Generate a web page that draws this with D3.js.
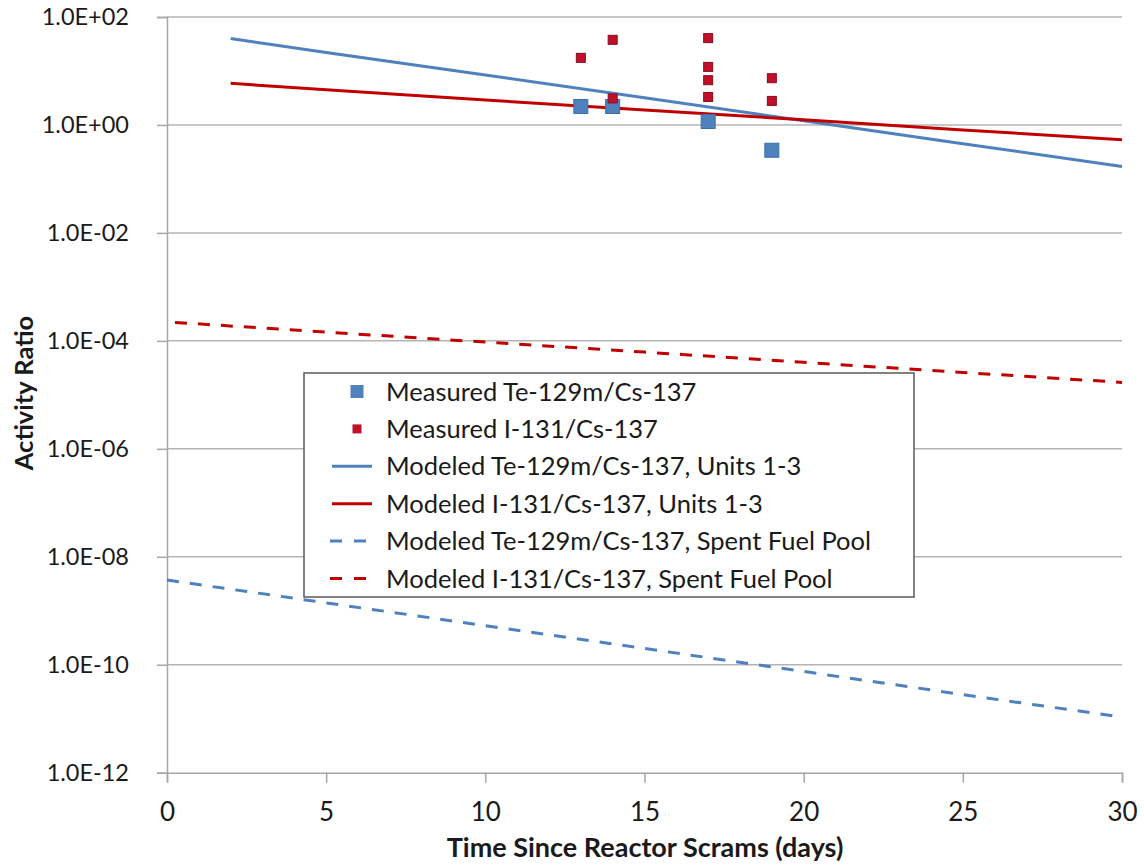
<!DOCTYPE html>
<html>
<head>
<meta charset="utf-8">
<script src="https://cdn.jsdelivr.net/npm/d3@7"></script>
<style>
  html, body { margin: 0; padding: 0; background: #fff; }
  svg { display: block; }
  text { font-family: Lato, "Open Sans", sans-serif; fill: #1a1a1a; }
</style>
</head>
<body>
<svg id="chart" width="1144" height="867"></svg>
<script>
// ---- data ----
const xTicks = [0, 5, 10, 15, 20, 25, 30];
const yTicks = [1e2, 1e0, 1e-2, 1e-4, 1e-6, 1e-8, 1e-10, 1e-12];
const yTickLabels = ["1.0E+02", "1.0E+00", "1.0E-02", "1.0E-04", "1.0E-06", "1.0E-08", "1.0E-10", "1.0E-12"];

const measTeDays = [13, 14, 17, 19];
const measTeVals = [2.2, 2.2, 1.16, 0.34];

const measIDays = [13, 14, 14, 17, 17, 17, 17, 19, 19];
const measIVals = [17.5, 37.8, 3.1, 40.6, 11.9, 6.75, 3.3, 7.35, 2.79];

const unitsDays = [2, 5, 10, 15, 20, 25, 30];
const modelTeUnits = [40, 22, 8.4, 3.2, 1.2, 0.45, 0.17];
const modelIUnits = [5.9, 4.5, 2.9, 1.9, 1.25, 0.81, 0.53];

const sfpTeDays = [0, 5, 10, 15, 20, 25, 30];
const modelTeSFP = [3.7e-9, 1.4e-9, 5.3e-10, 2.0e-10, 7.5e-11, 2.8e-11, 1.07e-11];
const sfpIDays = [0.25, 5, 10, 15, 20, 25, 30];
const modelISFP = [2.2e-4, 1.45e-4, 9.5e-5, 6.2e-5, 4.0e-5, 2.6e-5, 1.7e-5];

const legendLabels = [
  "Measured Te-129m/Cs-137",
  "Measured I-131/Cs-137",
  "Modeled Te-129m/Cs-137, Units 1-3",
  "Modeled I-131/Cs-137, Units 1-3",
  "Modeled Te-129m/Cs-137, Spent Fuel Pool",
  "Modeled I-131/Cs-137, Spent Fuel Pool"
];

(function () {
// ---- styles ----
const BLUE = "#4F81BD";
const RED = "#C00000";
const RED_SQ = "#C0102A";

const svg = d3.select("#chart");
const mLeft = 167, mRight = 1122, mTop = 17, mBottom = 772.7;

const x = d3.scaleLinear().domain([0, 30]).range([mLeft, mRight]);
const y = d3.scaleLog().domain([1e-12, 1e2]).range([mBottom, mTop]);

// gridlines
svg.append("g").selectAll("line").data(yTicks.slice(0, -1)).join("line")
  .attr("x1", mLeft).attr("x2", mRight)
  .attr("y1", d => y(d)).attr("y2", d => y(d))
  .attr("stroke", "#B4B4B4").attr("stroke-width", 1.5);

// y axis
const yAxis = d3.axisLeft(y).tickValues(yTicks)
  .tickFormat((d, i) => yTickLabels[i]).tickSize(10).tickPadding(28);
const gy = svg.append("g").attr("transform", `translate(${mLeft},0)`).call(yAxis);
gy.select(".domain").attr("stroke", "#A6A6A6").attr("stroke-width", 1.5);
gy.selectAll(".tick line").attr("stroke", "#A6A6A6").attr("stroke-width", 1.5);
gy.selectAll(".tick text").attr("font-size", 23.5).attr("fill", "#1a1a1a")
  .style("font-family", "Lato, sans-serif");

// x axis
const xAxis = d3.axisBottom(x).tickValues(xTicks).tickSize(10).tickPadding(20);
const gx = svg.append("g").attr("transform", `translate(0,${mBottom})`).call(xAxis);
gx.select(".domain").attr("stroke", "#A6A6A6").attr("stroke-width", 1.5);
gx.selectAll(".tick line").attr("stroke", "#A6A6A6").attr("stroke-width", 1.5);
gx.selectAll(".tick text").attr("font-size", 26).attr("fill", "#1a1a1a")
  .style("font-family", "Lato, sans-serif");

// axis titles
svg.append("text").attr("x", 645).attr("y", 857)
  .attr("text-anchor", "middle").attr("font-size", 27).attr("font-weight", "bold")
  .text("Time Since Reactor Scrams (days)");
svg.append("text").attr("transform", "translate(33,393) rotate(-90)")
  .attr("text-anchor", "middle").attr("font-size", 25.5).attr("font-weight", "bold")
  .text("Activity Ratio");

// lines
const line = d3.line().x(d => x(d[0])).y(d => y(d[1]));
const zip = (a, b) => a.map((v, i) => [v, b[i]]);

svg.append("path").datum(zip(sfpTeDays, modelTeSFP)).attr("d", line)
  .attr("fill", "none").attr("stroke", BLUE).attr("stroke-width", 3)
  .attr("stroke-dasharray", "12,11");
svg.append("path").datum(zip(sfpIDays, modelISFP)).attr("d", line)
  .attr("fill", "none").attr("stroke", RED).attr("stroke-width", 3)
  .attr("stroke-dasharray", "12,11");
svg.append("path").datum(zip(unitsDays, modelTeUnits)).attr("d", line)
  .attr("fill", "none").attr("stroke", BLUE).attr("stroke-width", 3);
svg.append("path").datum(zip(unitsDays, modelIUnits)).attr("d", line)
  .attr("fill", "none").attr("stroke", RED).attr("stroke-width", 3);

// measured points
const teS = 14, iS = 9;
svg.append("g").selectAll("rect").data(zip(measTeDays, measTeVals)).join("rect")
  .attr("x", d => x(d[0]) - teS / 2).attr("y", d => y(d[1]) - teS / 2)
  .attr("width", teS).attr("height", teS)
  .attr("fill", BLUE).attr("stroke", "#3F6FA8").attr("stroke-width", 1);
svg.append("g").selectAll("rect").data(zip(measIDays, measIVals)).join("rect")
  .attr("x", d => x(d[0]) - iS / 2).attr("y", d => y(d[1]) - iS / 2)
  .attr("width", iS).attr("height", iS)
  .attr("fill", RED_SQ).attr("stroke", "#8E0A1E").attr("stroke-width", 1);

// legend
const lg = svg.append("g");
lg.append("rect").attr("x", 304).attr("y", 373).attr("width", 610).attr("height", 224)
  .attr("fill", "#fff").attr("stroke", "#595959").attr("stroke-width", 1.5);
const rowY = i => 391.5 + i * 37.4;
const symX = 357, txtX = 386;
lg.append("rect").attr("x", symX - 6.5).attr("y", rowY(0) - 6.5).attr("width", 13).attr("height", 13)
  .attr("fill", BLUE);
lg.append("rect").attr("x", symX - 4.5).attr("y", rowY(1) - 4.5).attr("width", 9).attr("height", 9)
  .attr("fill", RED_SQ);
[[BLUE, null], [RED, null], [BLUE, "12,12"], [RED, "12,12"]].forEach((s, j) => {
  const p = lg.append("line").attr("x1", 332).attr("x2", 372)
    .attr("y1", rowY(j + 2)).attr("y2", rowY(j + 2))
    .attr("stroke", s[0]).attr("stroke-width", 3);
  if (s[1]) p.attr("stroke-dasharray", s[1]).attr("x1", 330).attr("x2", 378);
});
lg.selectAll("text").data(legendLabels).join("text")
  .attr("x", txtX).attr("y", (d, i) => rowY(i)).attr("dy", "0.36em")
  .attr("font-size", 25.5).text(d => d);
})();
</script>
</body>
</html>
